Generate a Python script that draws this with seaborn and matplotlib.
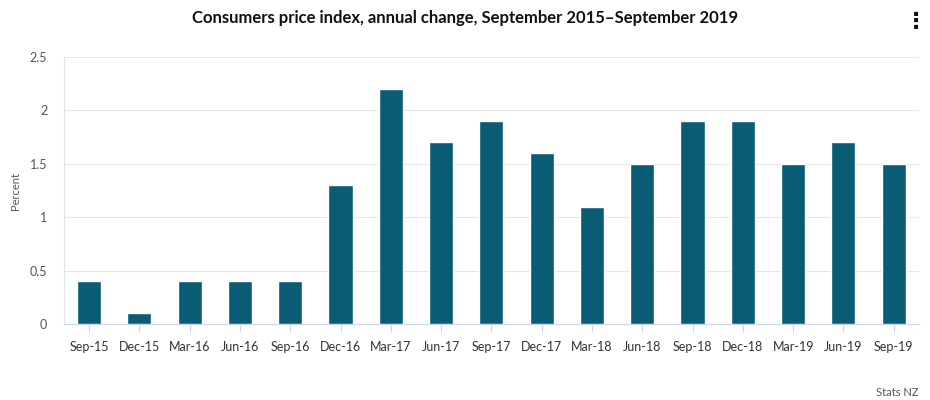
import matplotlib
matplotlib.use('Agg')
import matplotlib.pyplot as plt
import seaborn as sns
import pandas as pd

quarters = ['Sep-15', 'Dec-15', 'Mar-16', 'Jun-16', 'Sep-16', 'Dec-16', 'Mar-17', 'Jun-17',
            'Sep-17', 'Dec-17', 'Mar-18', 'Jun-18', 'Sep-18', 'Dec-18', 'Mar-19', 'Jun-19', 'Sep-19']
cpi_change = [0.4, 0.1, 0.4, 0.4, 0.4, 1.3, 2.2, 1.7, 1.9, 1.6, 1.1, 1.5, 1.9, 1.9, 1.5, 1.7, 1.5]
y_ticks = [0, 0.5, 1, 1.5, 2, 2.5]
y_tick_labels = ['0', '0.5', '1', '1.5', '2', '2.5']

df = pd.DataFrame({'Quarter': quarters, 'Percent': cpi_change})

sns.set_style('white')
plt.rcParams['font.family'] = ['Lato', 'DejaVu Sans']

fig = plt.figure(figsize=(9.3, 4), dpi=100)
ax = fig.add_axes([0.0688, 0.19, 0.9192, 0.6675])

sns.barplot(data=df, x='Quarter', y='Percent', color='#0a5b74', width=0.48,
            saturation=1, ax=ax, zorder=3)

ax.set_ylim(0, 2.5)
ax.set_xlim(-0.5, len(quarters) - 0.5)
ax.set_yticks(y_ticks)
ax.set_yticklabels(y_tick_labels)
ax.yaxis.grid(True, color='#e6e6e6', linewidth=0.8, zorder=0)
ax.set_axisbelow(True)

for side in ['top', 'right']:
    ax.spines[side].set_visible(False)
ax.spines['left'].set_color('#dfe3ea')
ax.spines['bottom'].set_color('#ccd6eb')
ax.spines['left'].set_linewidth(0.8)
ax.spines['bottom'].set_linewidth(0.8)

ax.tick_params(axis='x', length=6, width=0.8, color='#ccd6eb', labelsize=9,
               labelcolor='#333333', pad=6, bottom=True)
ax.tick_params(axis='y', length=0, labelsize=9, labelcolor='#555555', pad=12)

ax.set_xlabel('')
ax.set_ylabel('Percent', fontsize=8, color='#555555', labelpad=6)

fig.text(0.5, 0.955, 'Consumers price index, annual change, September 2015\u2013September 2019',
         ha='center', va='center', fontsize=12, fontweight='bold', color='#111111')
fig.text(0.988, 0.02, 'Stats NZ', ha='right', va='center', fontsize=8, color='#555555')
fig.text(0.985, 0.945, '\u22ee', ha='center', va='center', fontsize=16, fontweight='bold',
         color='#111111', family='DejaVu Sans')

fig.savefig('out.png', dpi=100)
